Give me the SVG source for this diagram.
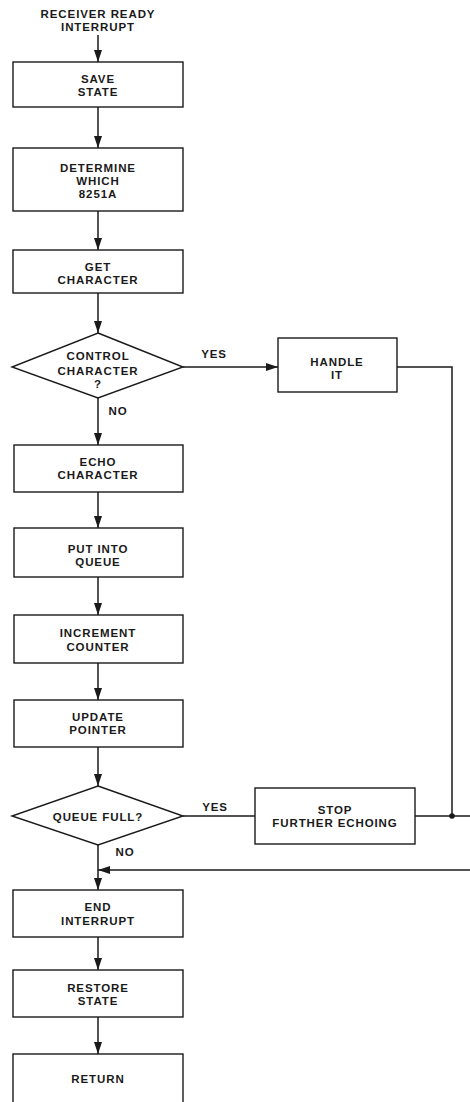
<svg xmlns="http://www.w3.org/2000/svg" width="470" height="1102" viewBox="0 0 470 1102">
<style>
text{font-family:"Liberation Sans",Arial,sans-serif;font-weight:bold;font-size:11.5px;fill:#1a1a1a;text-anchor:middle;letter-spacing:0.9px}
.box{fill:#fff;stroke:#1a1a1a;stroke-width:1.4}
.ln{fill:none;stroke:#1a1a1a;stroke-width:1.5}
</style>
<defs>
<marker id="ah" viewBox="0 0 12 8" refX="12" refY="4" markerWidth="12" markerHeight="8" markerUnits="userSpaceOnUse" orient="auto">
<path d="M0,0 L12,4 L0,8 Z" fill="#1a1a1a"/>
</marker>
</defs>
<rect width="470" height="1102" fill="#fff"/>
<g id="connectors">
<path class="ln" d="M98,35 V62" marker-end="url(#ah)"/>
<path class="ln" d="M98,107 V148" marker-end="url(#ah)"/>
<path class="ln" d="M98,211 V250" marker-end="url(#ah)"/>
<path class="ln" d="M98,293 V333" marker-end="url(#ah)"/>
<path class="ln" d="M183,367 H278" marker-end="url(#ah)"/>
<path class="ln" d="M397,367 H452 V816"/>
<path class="ln" d="M98,398 V445" marker-end="url(#ah)"/>
<path class="ln" d="M98,492 V528" marker-end="url(#ah)"/>
<path class="ln" d="M98,577 V615" marker-end="url(#ah)"/>
<path class="ln" d="M98,663 V700" marker-end="url(#ah)"/>
<path class="ln" d="M98,747 V786" marker-end="url(#ah)"/>
<path class="ln" d="M183,816 H255"/>
<path class="ln" d="M415,816 H470"/>
<circle cx="452" cy="816" r="2.8" fill="#1a1a1a"/>
<path class="ln" d="M470,870 H98" marker-end="url(#ah)"/>
<path class="ln" d="M98,845 V890" marker-end="url(#ah)"/>
<path class="ln" d="M98,937 V970" marker-end="url(#ah)"/>
<path class="ln" d="M98,1017 V1054" marker-end="url(#ah)"/>
<text x="214" y="358.1">YES</text>
<text x="118" y="415.1">NO</text>
<text x="215" y="811.1">YES</text>
<text x="125" y="856.1">NO</text>
</g>
<g id="start">
<text x="98" y="17.6">RECEIVER READY</text>
<text x="98" y="30.6">INTERRUPT</text>
</g>
<g id="save-state">
<rect class="box" x="13" y="62" width="170" height="45"/>
<text x="98" y="83.4">SAVE</text>
<text x="98" y="96.4">STATE</text>
</g>
<g id="determine">
<rect class="box" x="13" y="148" width="170" height="63"/>
<text x="98" y="172.1">DETERMINE</text>
<text x="98" y="185.1">WHICH</text>
<text x="98" y="198.1">8251A</text>
</g>
<g id="get-char">
<rect class="box" x="13" y="250" width="170" height="43"/>
<text x="98" y="270.6">GET</text>
<text x="98" y="283.6">CHARACTER</text>
</g>
<g id="control-char">
<polygon class="box" points="98,333 183,367 98,398 12,367"/>
<text x="98" y="360.1">CONTROL</text>
<text x="98" y="375.1">CHARACTER</text>
<text x="98" y="388.1">?</text>
</g>
<g id="handle-it">
<rect class="box" x="278" y="338" width="119" height="54"/>
<text x="337" y="365.6">HANDLE</text>
<text x="337" y="378.6">IT</text>
</g>
<g id="echo">
<rect class="box" x="14" y="445" width="169" height="47"/>
<text x="98" y="465.6">ECHO</text>
<text x="98" y="478.6">CHARACTER</text>
</g>
<g id="put-queue">
<rect class="box" x="14" y="528" width="169" height="49"/>
<text x="98" y="553.1">PUT INTO</text>
<text x="98" y="566.1">QUEUE</text>
</g>
<g id="increment">
<rect class="box" x="14" y="615" width="169" height="48"/>
<text x="98" y="637.1">INCREMENT</text>
<text x="98" y="651.1">COUNTER</text>
</g>
<g id="update">
<rect class="box" x="14" y="700" width="169" height="47"/>
<text x="98" y="721.1">UPDATE</text>
<text x="98" y="734.1">POINTER</text>
</g>
<g id="queue-full">
<polygon class="box" points="98,786 183,816 98,845 12,816"/>
<text x="98" y="821.1">QUEUE FULL?</text>
</g>
<g id="stop-echo">
<rect class="box" x="255" y="788" width="160" height="56"/>
<text x="335" y="814.1">STOP</text>
<text x="335" y="827.1">FURTHER ECHOING</text>
</g>
<g id="end-int">
<rect class="box" x="13" y="890" width="170" height="47"/>
<text x="98" y="911.1">END</text>
<text x="98" y="925.1">INTERRUPT</text>
</g>
<g id="restore">
<rect class="box" x="13" y="970" width="170" height="47"/>
<text x="98" y="992.1">RESTORE</text>
<text x="98" y="1005.1">STATE</text>
</g>
<g id="return">
<rect class="box" x="13" y="1054" width="170" height="60"/>
<text x="98" y="1083.1">RETURN</text>
</g>
</svg>
